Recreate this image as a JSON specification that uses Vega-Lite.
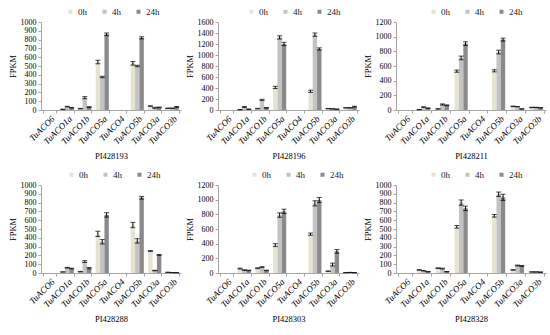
{
  "$schema": "https://vega.github.io/schema/vega-lite/v6.json",
  "padding": {"left": 8, "top": 7, "right": 4, "bottom": 4},
  "background": "white",
  "datasets": {
    "d": [
      {"p":"PI428193","g":"TuACO6","t":"0h","v":0,"e":0},{"p":"PI428193","g":"TuACO6","t":"4h","v":0,"e":0},{"p":"PI428193","g":"TuACO6","t":"24h","v":0,"e":0},
      {"p":"PI428193","g":"TuACO1a","t":"0h","v":8,"e":2},{"p":"PI428193","g":"TuACO1a","t":"4h","v":38,"e":4},{"p":"PI428193","g":"TuACO1a","t":"24h","v":25,"e":3},
      {"p":"PI428193","g":"TuACO1b","t":"0h","v":15,"e":3},{"p":"PI428193","g":"TuACO1b","t":"4h","v":140,"e":12},{"p":"PI428193","g":"TuACO1b","t":"24h","v":33,"e":5},
      {"p":"PI428193","g":"TuACO5a","t":"0h","v":545,"e":20},{"p":"PI428193","g":"TuACO5a","t":"4h","v":375,"e":8},{"p":"PI428193","g":"TuACO5a","t":"24h","v":860,"e":15},
      {"p":"PI428193","g":"TuACO4","t":"0h","v":0,"e":0},{"p":"PI428193","g":"TuACO4","t":"4h","v":0,"e":0},{"p":"PI428193","g":"TuACO4","t":"24h","v":0,"e":0},
      {"p":"PI428193","g":"TuACO5b","t":"0h","v":530,"e":20},{"p":"PI428193","g":"TuACO5b","t":"4h","v":500,"e":8},{"p":"PI428193","g":"TuACO5b","t":"24h","v":820,"e":12},
      {"p":"PI428193","g":"TuACO3a","t":"0h","v":45,"e":3},{"p":"PI428193","g":"TuACO3a","t":"4h","v":25,"e":5},{"p":"PI428193","g":"TuACO3a","t":"24h","v":30,"e":4},
      {"p":"PI428193","g":"TuACO3b","t":"0h","v":20,"e":2},{"p":"PI428193","g":"TuACO3b","t":"4h","v":20,"e":2},{"p":"PI428193","g":"TuACO3b","t":"24h","v":35,"e":5},

      {"p":"PI428196","g":"TuACO6","t":"0h","v":0,"e":0},{"p":"PI428196","g":"TuACO6","t":"4h","v":0,"e":0},{"p":"PI428196","g":"TuACO6","t":"24h","v":0,"e":0},
      {"p":"PI428196","g":"TuACO1a","t":"0h","v":5,"e":2},{"p":"PI428196","g":"TuACO1a","t":"4h","v":55,"e":8},{"p":"PI428196","g":"TuACO1a","t":"24h","v":15,"e":3},
      {"p":"PI428196","g":"TuACO1b","t":"0h","v":25,"e":5},{"p":"PI428196","g":"TuACO1b","t":"4h","v":185,"e":10},{"p":"PI428196","g":"TuACO1b","t":"24h","v":40,"e":6},
      {"p":"PI428196","g":"TuACO5a","t":"0h","v":410,"e":20},{"p":"PI428196","g":"TuACO5a","t":"4h","v":1320,"e":30},{"p":"PI428196","g":"TuACO5a","t":"24h","v":1200,"e":30},
      {"p":"PI428196","g":"TuACO4","t":"0h","v":0,"e":0},{"p":"PI428196","g":"TuACO4","t":"4h","v":0,"e":0},{"p":"PI428196","g":"TuACO4","t":"24h","v":0,"e":0},
      {"p":"PI428196","g":"TuACO5b","t":"0h","v":340,"e":20},{"p":"PI428196","g":"TuACO5b","t":"4h","v":1370,"e":30},{"p":"PI428196","g":"TuACO5b","t":"24h","v":1110,"e":20},
      {"p":"PI428196","g":"TuACO3a","t":"0h","v":25,"e":3},{"p":"PI428196","g":"TuACO3a","t":"4h","v":20,"e":3},{"p":"PI428196","g":"TuACO3a","t":"24h","v":15,"e":3},
      {"p":"PI428196","g":"TuACO3b","t":"0h","v":40,"e":4},{"p":"PI428196","g":"TuACO3b","t":"4h","v":40,"e":4},{"p":"PI428196","g":"TuACO3b","t":"24h","v":60,"e":8},

      {"p":"PI428211","g":"TuACO6","t":"0h","v":0,"e":0},{"p":"PI428211","g":"TuACO6","t":"4h","v":0,"e":0},{"p":"PI428211","g":"TuACO6","t":"24h","v":0,"e":0},
      {"p":"PI428211","g":"TuACO1a","t":"0h","v":5,"e":2},{"p":"PI428211","g":"TuACO1a","t":"4h","v":40,"e":4},{"p":"PI428211","g":"TuACO1a","t":"24h","v":25,"e":3},
      {"p":"PI428211","g":"TuACO1b","t":"0h","v":15,"e":3},{"p":"PI428211","g":"TuACO1b","t":"4h","v":75,"e":8},{"p":"PI428211","g":"TuACO1b","t":"24h","v":65,"e":5},
      {"p":"PI428211","g":"TuACO5a","t":"0h","v":530,"e":15},{"p":"PI428211","g":"TuACO5a","t":"4h","v":710,"e":25},{"p":"PI428211","g":"TuACO5a","t":"24h","v":905,"e":25},
      {"p":"PI428211","g":"TuACO4","t":"0h","v":0,"e":0},{"p":"PI428211","g":"TuACO4","t":"4h","v":0,"e":0},{"p":"PI428211","g":"TuACO4","t":"24h","v":0,"e":0},
      {"p":"PI428211","g":"TuACO5b","t":"0h","v":535,"e":15},{"p":"PI428211","g":"TuACO5b","t":"4h","v":790,"e":25},{"p":"PI428211","g":"TuACO5b","t":"24h","v":960,"e":20},
      {"p":"PI428211","g":"TuACO3a","t":"0h","v":50,"e":4},{"p":"PI428211","g":"TuACO3a","t":"4h","v":45,"e":3},{"p":"PI428211","g":"TuACO3a","t":"24h","v":15,"e":2},
      {"p":"PI428211","g":"TuACO3b","t":"0h","v":35,"e":3},{"p":"PI428211","g":"TuACO3b","t":"4h","v":35,"e":3},{"p":"PI428211","g":"TuACO3b","t":"24h","v":30,"e":3},

      {"p":"PI428288","g":"TuACO6","t":"0h","v":0,"e":0},{"p":"PI428288","g":"TuACO6","t":"4h","v":0,"e":0},{"p":"PI428288","g":"TuACO6","t":"24h","v":0,"e":0},
      {"p":"PI428288","g":"TuACO1a","t":"0h","v":12,"e":2},{"p":"PI428288","g":"TuACO1a","t":"4h","v":60,"e":4},{"p":"PI428288","g":"TuACO1a","t":"24h","v":50,"e":4},
      {"p":"PI428288","g":"TuACO1b","t":"0h","v":15,"e":3},{"p":"PI428288","g":"TuACO1b","t":"4h","v":130,"e":10},{"p":"PI428288","g":"TuACO1b","t":"24h","v":55,"e":8},
      {"p":"PI428288","g":"TuACO5a","t":"0h","v":445,"e":30},{"p":"PI428288","g":"TuACO5a","t":"4h","v":355,"e":25},{"p":"PI428288","g":"TuACO5a","t":"24h","v":660,"e":25},
      {"p":"PI428288","g":"TuACO4","t":"0h","v":0,"e":0},{"p":"PI428288","g":"TuACO4","t":"4h","v":0,"e":0},{"p":"PI428288","g":"TuACO4","t":"24h","v":0,"e":0},
      {"p":"PI428288","g":"TuACO5b","t":"0h","v":545,"e":30},{"p":"PI428288","g":"TuACO5b","t":"4h","v":365,"e":25},{"p":"PI428288","g":"TuACO5b","t":"24h","v":855,"e":15},
      {"p":"PI428288","g":"TuACO3a","t":"0h","v":250,"e":5},{"p":"PI428288","g":"TuACO3a","t":"4h","v":28,"e":3},{"p":"PI428288","g":"TuACO3a","t":"24h","v":205,"e":5},
      {"p":"PI428288","g":"TuACO3b","t":"0h","v":8,"e":1},{"p":"PI428288","g":"TuACO3b","t":"4h","v":5,"e":1},{"p":"PI428288","g":"TuACO3b","t":"24h","v":3,"e":1},

      {"p":"PI428303","g":"TuACO6","t":"0h","v":0,"e":0},{"p":"PI428303","g":"TuACO6","t":"4h","v":0,"e":0},{"p":"PI428303","g":"TuACO6","t":"24h","v":0,"e":0},
      {"p":"PI428303","g":"TuACO1a","t":"0h","v":60,"e":6},{"p":"PI428303","g":"TuACO1a","t":"4h","v":40,"e":4},{"p":"PI428303","g":"TuACO1a","t":"24h","v":35,"e":4},
      {"p":"PI428303","g":"TuACO1b","t":"0h","v":65,"e":6},{"p":"PI428303","g":"TuACO1b","t":"4h","v":80,"e":6},{"p":"PI428303","g":"TuACO1b","t":"24h","v":35,"e":4},
      {"p":"PI428303","g":"TuACO5a","t":"0h","v":380,"e":20},{"p":"PI428303","g":"TuACO5a","t":"4h","v":790,"e":30},{"p":"PI428303","g":"TuACO5a","t":"24h","v":840,"e":30},
      {"p":"PI428303","g":"TuACO4","t":"0h","v":0,"e":0},{"p":"PI428303","g":"TuACO4","t":"4h","v":0,"e":0},{"p":"PI428303","g":"TuACO4","t":"24h","v":0,"e":0},
      {"p":"PI428303","g":"TuACO5b","t":"0h","v":530,"e":15},{"p":"PI428303","g":"TuACO5b","t":"4h","v":950,"e":35},{"p":"PI428303","g":"TuACO5b","t":"24h","v":995,"e":35},
      {"p":"PI428303","g":"TuACO3a","t":"0h","v":25,"e":3},{"p":"PI428303","g":"TuACO3a","t":"4h","v":115,"e":20},{"p":"PI428303","g":"TuACO3a","t":"24h","v":295,"e":25},
      {"p":"PI428303","g":"TuACO3b","t":"0h","v":5,"e":1},{"p":"PI428303","g":"TuACO3b","t":"4h","v":8,"e":1},{"p":"PI428303","g":"TuACO3b","t":"24h","v":5,"e":1},

      {"p":"PI428328","g":"TuACO6","t":"0h","v":0,"e":0},{"p":"PI428328","g":"TuACO6","t":"4h","v":0,"e":0},{"p":"PI428328","g":"TuACO6","t":"24h","v":0,"e":0},
      {"p":"PI428328","g":"TuACO1a","t":"0h","v":35,"e":4},{"p":"PI428328","g":"TuACO1a","t":"4h","v":25,"e":3},{"p":"PI428328","g":"TuACO1a","t":"24h","v":15,"e":2},
      {"p":"PI428328","g":"TuACO1b","t":"0h","v":55,"e":4},{"p":"PI428328","g":"TuACO1b","t":"4h","v":50,"e":5},{"p":"PI428328","g":"TuACO1b","t":"24h","v":15,"e":2},
      {"p":"PI428328","g":"TuACO5a","t":"0h","v":525,"e":15},{"p":"PI428328","g":"TuACO5a","t":"4h","v":800,"e":30},{"p":"PI428328","g":"TuACO5a","t":"24h","v":735,"e":25},
      {"p":"PI428328","g":"TuACO4","t":"0h","v":0,"e":0},{"p":"PI428328","g":"TuACO4","t":"4h","v":0,"e":0},{"p":"PI428328","g":"TuACO4","t":"24h","v":0,"e":0},
      {"p":"PI428328","g":"TuACO5b","t":"0h","v":650,"e":15},{"p":"PI428328","g":"TuACO5b","t":"4h","v":895,"e":25},{"p":"PI428328","g":"TuACO5b","t":"24h","v":860,"e":35},
      {"p":"PI428328","g":"TuACO3a","t":"0h","v":35,"e":3},{"p":"PI428328","g":"TuACO3a","t":"4h","v":85,"e":5},{"p":"PI428328","g":"TuACO3a","t":"24h","v":80,"e":5},
      {"p":"PI428328","g":"TuACO3b","t":"0h","v":12,"e":2},{"p":"PI428328","g":"TuACO3b","t":"4h","v":12,"e":2},{"p":"PI428328","g":"TuACO3b","t":"24h","v":10,"e":2}
    ]
  },
  "columns": 3,
  "spacing": {"row": 75, "column": 37},
  "bounds": "flush",
  "align": "each",
  "resolve": {"scale": {"color": "independent", "y": "independent", "x": "independent"}, "legend": {"color": "independent"}},
  "concat": [
    {
      "width": 140, "height": 88,
      "data": {"name": "d"},
      "transform": [{"filter": "datum.p == 'PI428193'"}],
      "encoding": {
        "x": {"field": "g", "type": "nominal", "sort": ["TuACO6","TuACO1a","TuACO1b","TuACO5a","TuACO4","TuACO5b","TuACO3a","TuACO3b"], "scale": {"paddingInner": 0.25, "paddingOuter": 0.125}, "title": "PI428193"},
        "xOffset": {"field": "t", "type": "nominal", "sort": ["0h","4h","24h"]}
      },
      "layer": [
        {"mark": {"type": "bar"},
         "encoding": {
           "y": {"field": "v", "type": "quantitative", "title": "FPKM", "scale": {"domain": [0, 1000]}, "axis": {"values": [0,100,200,300,400,500,600,700,800,900,1000], "labelOverlap": false, "format": "d"}},
           "color": {"field": "t", "type": "nominal", "sort": ["0h","4h","24h"], "scale": {"domain": ["0h","4h","24h"], "range": ["#e7e3d1","#c3c3c3","#8a8a8a"]}, "legend": {"legendX": 25, "legendY": -15}}
         }},
        {"transform": [{"filter": "datum.e > 0"}],
         "mark": {"type": "errorbar", "color": "black", "ticks": {"size": 5, "color": "black"}},
         "encoding": {"y": {"field": "v", "type": "quantitative", "title": "FPKM", "axis": {"values": [0,100,200,300,400,500,600,700,800,900,1000], "labelOverlap": false, "format": "d"}}, "yError": {"field": "e"}}}
      ]
    },
    {
      "width": 141, "height": 88,
      "data": {"name": "d"},
      "transform": [{"filter": "datum.p == 'PI428196'"}],
      "encoding": {
        "x": {"field": "g", "type": "nominal", "sort": ["TuACO6","TuACO1a","TuACO1b","TuACO5a","TuACO4","TuACO5b","TuACO3a","TuACO3b"], "scale": {"paddingInner": 0.25, "paddingOuter": 0.125}, "title": "PI428196"},
        "xOffset": {"field": "t", "type": "nominal", "sort": ["0h","4h","24h"]}
      },
      "layer": [
        {"mark": {"type": "bar"},
         "encoding": {
           "y": {"field": "v", "type": "quantitative", "title": "FPKM", "scale": {"domain": [0, 1600]}, "axis": {"values": [0,200,400,600,800,1000,1200,1400,1600], "labelOverlap": false, "format": "d"}},
           "color": {"field": "t", "type": "nominal", "sort": ["0h","4h","24h"], "scale": {"domain": ["0h","4h","24h"], "range": ["#e7e3d1","#c3c3c3","#8a8a8a"]}, "legend": {"legendX": 29, "legendY": -15}}
         }},
        {"transform": [{"filter": "datum.e > 0"}],
         "mark": {"type": "errorbar", "color": "black", "ticks": {"size": 5, "color": "black"}},
         "encoding": {"y": {"field": "v", "type": "quantitative", "title": "FPKM", "axis": {"values": [0,200,400,600,800,1000,1200,1400,1600], "labelOverlap": false, "format": "d"}}, "yError": {"field": "e"}}}
      ]
    },
    {
      "width": 150, "height": 88,
      "data": {"name": "d"},
      "transform": [{"filter": "datum.p == 'PI428211'"}],
      "encoding": {
        "x": {"field": "g", "type": "nominal", "sort": ["TuACO6","TuACO1a","TuACO1b","TuACO5a","TuACO4","TuACO5b","TuACO3a","TuACO3b"], "scale": {"paddingInner": 0.25, "paddingOuter": 0.125}, "title": "PI428211"},
        "xOffset": {"field": "t", "type": "nominal", "sort": ["0h","4h","24h"]}
      },
      "layer": [
        {"mark": {"type": "bar"},
         "encoding": {
           "y": {"field": "v", "type": "quantitative", "title": "FPKM", "scale": {"domain": [0, 1200]}, "axis": {"values": [0,200,400,600,800,1000,1200], "labelOverlap": false, "format": "d"}},
           "color": {"field": "t", "type": "nominal", "sort": ["0h","4h","24h"], "scale": {"domain": ["0h","4h","24h"], "range": ["#e7e3d1","#c3c3c3","#8a8a8a"]}, "legend": {"legendX": 33, "legendY": -15}}
         }},
        {"transform": [{"filter": "datum.e > 0"}],
         "mark": {"type": "errorbar", "color": "black", "ticks": {"size": 5, "color": "black"}},
         "encoding": {"y": {"field": "v", "type": "quantitative", "title": "FPKM", "axis": {"values": [0,200,400,600,800,1000,1200], "labelOverlap": false, "format": "d"}}, "yError": {"field": "e"}}}
      ]
    },
    {
      "width": 140, "height": 88,
      "data": {"name": "d"},
      "transform": [{"filter": "datum.p == 'PI428288'"}],
      "encoding": {
        "x": {"field": "g", "type": "nominal", "sort": ["TuACO6","TuACO1a","TuACO1b","TuACO5a","TuACO4","TuACO5b","TuACO3a","TuACO3b"], "scale": {"paddingInner": 0.25, "paddingOuter": 0.125}, "title": "PI428288"},
        "xOffset": {"field": "t", "type": "nominal", "sort": ["0h","4h","24h"]}
      },
      "layer": [
        {"mark": {"type": "bar"},
         "encoding": {
           "y": {"field": "v", "type": "quantitative", "title": "FPKM", "scale": {"domain": [0, 1000]}, "axis": {"values": [0,100,200,300,400,500,600,700,800,900,1000], "labelOverlap": false, "format": "d"}},
           "color": {"field": "t", "type": "nominal", "sort": ["0h","4h","24h"], "scale": {"domain": ["0h","4h","24h"], "range": ["#e7e3d1","#c3c3c3","#8a8a8a"]}, "legend": {"legendX": 26, "legendY": -15}}
         }},
        {"transform": [{"filter": "datum.e > 0"}],
         "mark": {"type": "errorbar", "color": "black", "ticks": {"size": 5, "color": "black"}},
         "encoding": {"y": {"field": "v", "type": "quantitative", "title": "FPKM", "axis": {"values": [0,100,200,300,400,500,600,700,800,900,1000], "labelOverlap": false, "format": "d"}}, "yError": {"field": "e"}}}
      ]
    },
    {
      "width": 141, "height": 88,
      "data": {"name": "d"},
      "transform": [{"filter": "datum.p == 'PI428303'"}],
      "encoding": {
        "x": {"field": "g", "type": "nominal", "sort": ["TuACO6","TuACO1a","TuACO1b","TuACO5a","TuACO4","TuACO5b","TuACO3a","TuACO3b"], "scale": {"paddingInner": 0.25, "paddingOuter": 0.125}, "title": "PI428303"},
        "xOffset": {"field": "t", "type": "nominal", "sort": ["0h","4h","24h"]}
      },
      "layer": [
        {"mark": {"type": "bar"},
         "encoding": {
           "y": {"field": "v", "type": "quantitative", "title": "FPKM", "scale": {"domain": [0, 1200]}, "axis": {"values": [0,200,400,600,800,1000,1200], "labelOverlap": false, "format": "d"}},
           "color": {"field": "t", "type": "nominal", "sort": ["0h","4h","24h"], "scale": {"domain": ["0h","4h","24h"], "range": ["#e7e3d1","#c3c3c3","#8a8a8a"]}, "legend": {"legendX": 32, "legendY": -15}}
         }},
        {"transform": [{"filter": "datum.e > 0"}],
         "mark": {"type": "errorbar", "color": "black", "ticks": {"size": 5, "color": "black"}},
         "encoding": {"y": {"field": "v", "type": "quantitative", "title": "FPKM", "axis": {"values": [0,200,400,600,800,1000,1200], "labelOverlap": false, "format": "d"}}, "yError": {"field": "e"}}}
      ]
    },
    {
      "width": 150, "height": 88,
      "data": {"name": "d"},
      "transform": [{"filter": "datum.p == 'PI428328'"}],
      "encoding": {
        "x": {"field": "g", "type": "nominal", "sort": ["TuACO6","TuACO1a","TuACO1b","TuACO5a","TuACO4","TuACO5b","TuACO3a","TuACO3b"], "scale": {"paddingInner": 0.25, "paddingOuter": 0.125}, "title": "PI428328"},
        "xOffset": {"field": "t", "type": "nominal", "sort": ["0h","4h","24h"]}
      },
      "layer": [
        {"mark": {"type": "bar"},
         "encoding": {
           "y": {"field": "v", "type": "quantitative", "title": "FPKM", "scale": {"domain": [0, 1000]}, "axis": {"values": [0,100,200,300,400,500,600,700,800,900,1000], "labelOverlap": false, "format": "d"}},
           "color": {"field": "t", "type": "nominal", "sort": ["0h","4h","24h"], "scale": {"domain": ["0h","4h","24h"], "range": ["#e7e3d1","#c3c3c3","#8a8a8a"]}, "legend": {"legendX": 33, "legendY": -15}}
         }},
        {"transform": [{"filter": "datum.e > 0"}],
         "mark": {"type": "errorbar", "color": "black", "ticks": {"size": 5, "color": "black"}},
         "encoding": {"y": {"field": "v", "type": "quantitative", "title": "FPKM", "axis": {"values": [0,100,200,300,400,500,600,700,800,900,1000], "labelOverlap": false, "format": "d"}}, "yError": {"field": "e"}}}
      ]
    }
  ],
  "config": {
    "font": "Liberation Serif",
    "view": {"stroke": null},
    "axis": {
      "labelFont": "Liberation Serif", "titleFont": "Liberation Serif",
      "labelColor": "#000", "titleColor": "#000",
      "domainColor": "#a6a6a6", "tickColor": "#a6a6a6",
      "grid": false, "titleFontWeight": "normal",
      "labelFontSize": 8, "titleFontSize": 8.5, "tickSize": 3, "labelPadding": 2
    },
    "axisX": {"labelAngle": -45, "labelFontStyle": "italic", "labelFontSize": 9, "tickBand": "extent", "titlePadding": 6, "labelPadding": 1},
    "axisY": {"titlePadding": 3, "labelOverlap": false, "format": "d", "labelFlush": false},
    "legend": {
      "orient": "none", "direction": "horizontal", "title": null,
      "symbolType": "square", "symbolSize": 16, "symbolStrokeWidth": 0,
      "labelFont": "Liberation Serif", "labelFontSize": 9, "labelColor": "#222",
      "labelOffset": 3, "columnPadding": 13
    }
  }
}
